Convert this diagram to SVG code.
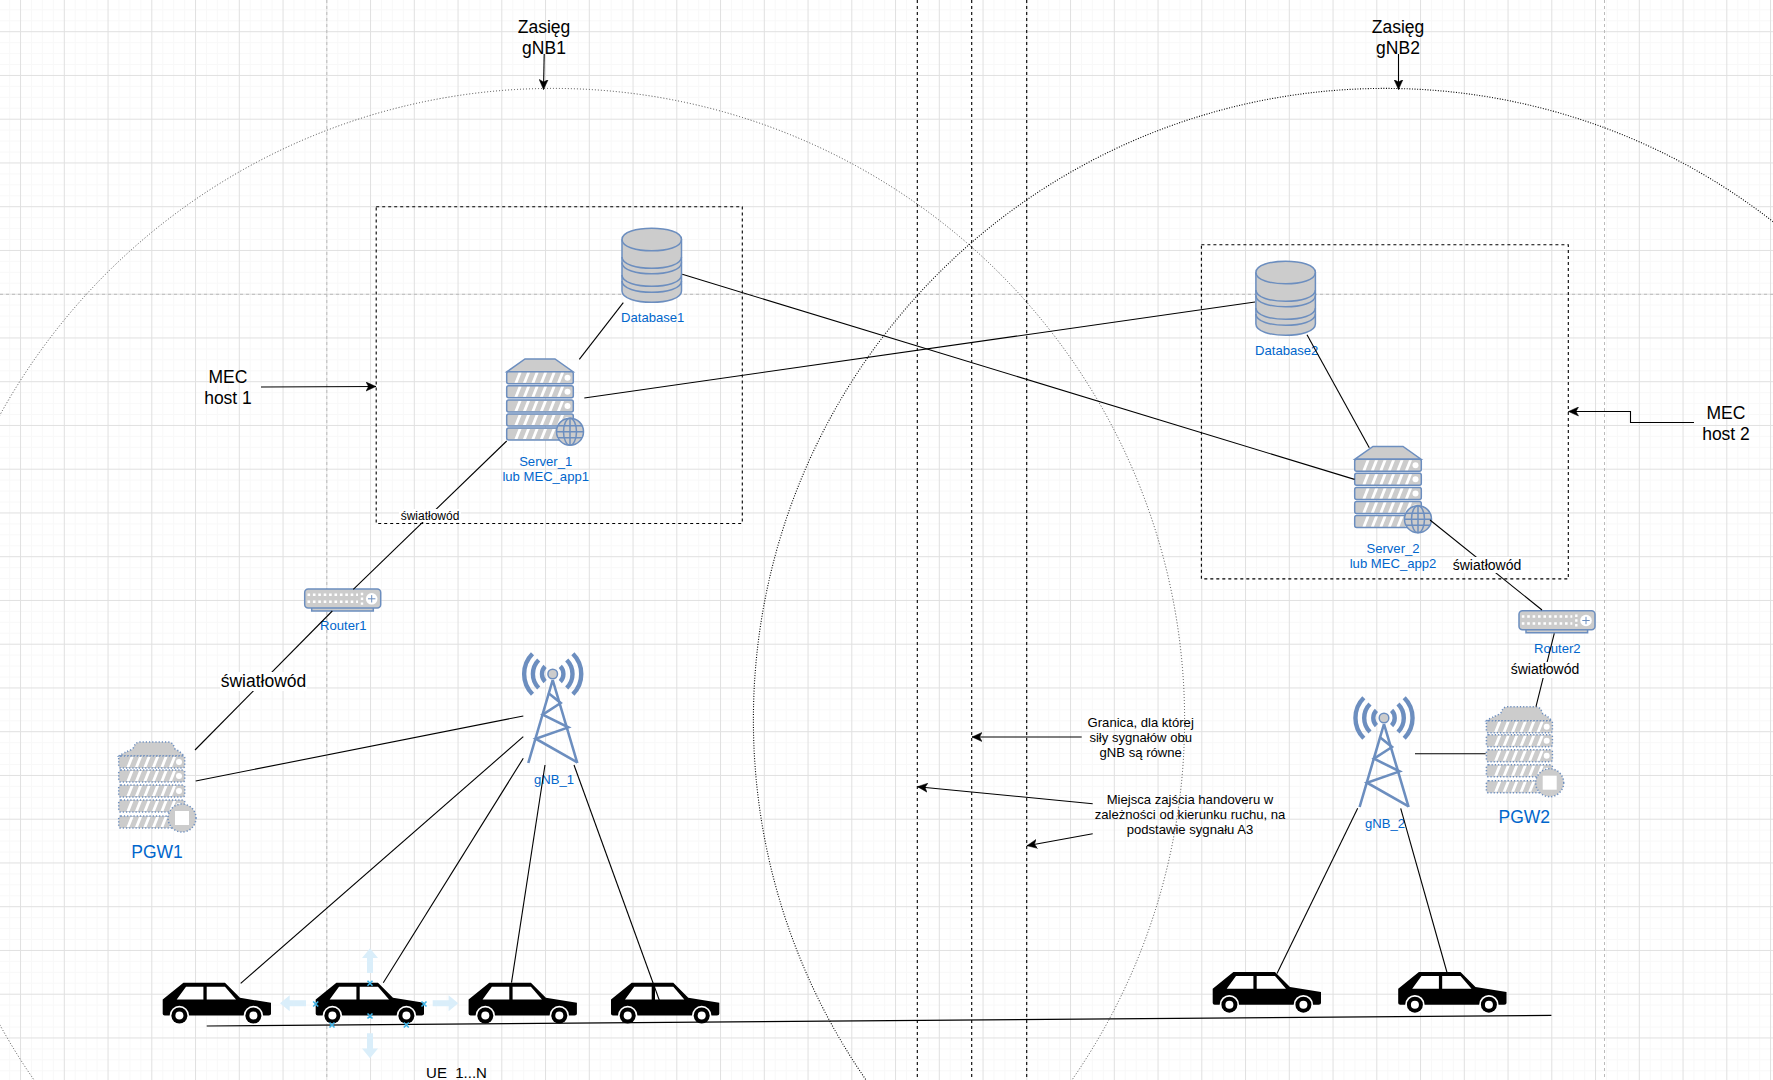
<svg xmlns="http://www.w3.org/2000/svg" xmlns:xlink="http://www.w3.org/1999/xlink" width="1773" height="1080" viewBox="0 0 1773 1080">
<style>
text{font-family:"Liberation Sans",Arial,sans-serif;fill:#000;text-anchor:middle}
.t13{font-size:13.1px}.t14{font-size:14px}.t12{font-size:12px}.t17{font-size:17.5px}.t15{font-size:15px}
.b{fill:#0066cc}
.c{fill:none;stroke:#000;stroke-width:1.1}
.a{marker-end:url(#arr)}
.ic{fill:#ccc;stroke:#6c8ebf;stroke-width:1.5}
.pd{stroke-dasharray:1.2 2}
.st{fill:#fff;stroke:none}
.page{stroke:#bbb;stroke-width:1;stroke-dasharray:3 3;fill:none}
.vd{stroke:#000;stroke-width:1.1;stroke-dasharray:3 3;fill:none}
.tw{fill:none;stroke:#6c8ebf;stroke-width:2.6}
.ar{fill:none;stroke:#6c8ebf;stroke-width:4.4}
.sel{fill:#daeefa;stroke:none}
.x{stroke:#3fb3e6;stroke-width:1.6;fill:none}
</style>
<defs>
<pattern id="grid" patternUnits="userSpaceOnUse" x="20.05" y="31.2" width="43.75" height="43.75">
<path d="M11.44 0V43.75M22.38 0V43.75M33.31 0V43.75M0 11.44H43.75M0 22.38H43.75M0 33.31H43.75" stroke="#f8f8f8" stroke-width="1" fill="none"/>
<path d="M0.5 0V43.75M0 0.5H43.75" stroke="#e0e0e0" stroke-width="1" fill="none"/>
</pattern>
<marker id="arr" markerUnits="userSpaceOnUse" markerWidth="12" markerHeight="10" refX="10" refY="5" orient="auto">
<path d="M0 0.5L10 5L0 9.5L2.5 5Z" fill="#000" stroke="#000" stroke-width="0.5"/>
</marker>
<path id="stripes" d="M8.5 11L12.5 1H15.5L11.5 11ZM17 11L21 1H24L20 11ZM25.5 11L29.5 1H32.5L28.5 11ZM34 11L38 1H41L37 11ZM42.5 11L46.5 1H49.5L45.5 11ZM51 11L55 1H58L54 11Z" class="st"/>
<g id="slot"><rect x="0.7" y="0" width="66.6" height="12" rx="2" class="ic"/><use href="#stripes"/><circle cx="61.5" cy="6" r="3" class="st"/></g>
<g id="slotp"><rect x="0.7" y="0" width="66" height="12" rx="2" class="ic pd"/><use href="#stripes"/><circle cx="61" cy="6" r="3" class="st"/></g>
<g id="server">
<path d="M1 12.7L19 0H49L67 12.7Z" class="ic"/>
<use href="#slot" y="12.7"/><use href="#slot" y="26.7"/><use href="#slot" y="41"/><use href="#slot" y="55"/><use href="#slot" y="69"/>
<g transform="translate(64 72.7)"><circle r="13.5" class="ic"/><ellipse rx="6.5" ry="13.5" class="ic" style="fill:none"/><path d="M0-13.5V13.5M-13.5 0H13.5M-12-6H12M-12 6H12" class="ic" style="fill:none"/></g>
</g>
<g id="pgw">
<path d="M1 14Q5 11 15 7Q17 0 22 0H50Q55 0 57 7Q63 10 66 14Z" class="ic pd"/>
<use href="#slotp" y="14"/><use href="#slotp" y="28"/><use href="#slotp" y="43"/><use href="#slotp" y="58"/><use href="#slotp" y="74"/>
<circle cx="64" cy="76" r="14" class="ic pd"/><rect x="57" y="69" width="14" height="14" fill="#fff"/>
</g>
<g id="db">
<path d="M0.5 11.5C0.5 -3.5 60 -3.5 60 11.5V63C60 78 0.5 78 0.5 63Z" class="ic"/>
<path d="M0.5 11.5C0.5 26.5 60 26.5 60 11.5M0.5 29C0.5 44 60 44 60 29M0.5 34.5C0.5 49.5 60 49.5 60 34.5M0.5 47C0.5 62 60 62 60 47M0.5 53C0.5 68 60 68 60 53" fill="none" stroke="#6c8ebf" stroke-width="1.5"/>
</g>
<g id="router">
<path d="M7.7 19H69.3V22.7H7.7Z" class="ic"/>
<rect x="0.7" y="0.7" width="76" height="19" rx="3.5" class="ic"/>
<path d="M3.5 6.5H54M3.5 13.5H54" stroke="#fff" stroke-width="2.6" stroke-dasharray="2.6 2.8" fill="none"/>
<path d="M58 4.5V17" stroke="#fff" stroke-width="2.4" stroke-dasharray="2.4 2.4" fill="none"/>
<circle cx="67.7" cy="10.5" r="5.8" fill="#fff" stroke="none"/>
<path d="M64 10.5H71.4M67.7 6.8V14.2" stroke="#6c8ebf" stroke-width="1" fill="none"/>
</g>
<g id="tower">
<path d="M0 6L-24.4 89M0 6L24.6 89" class="tw"/>
<path d="M-4.4 19L8 29L-10 40.7L15.6 53.4L-17 64.7L24.6 88.4" class="tw"/>
<circle r="4.8" class="ic"/>
<path d="M-20.2 -20.2A28.6 28.6 0 0 0 -20.2 20.2M-14 -14A19.8 19.8 0 0 0 -14 14M-7.6 -7.6A10.8 10.8 0 0 0 -7.6 7.6M20.2 -20.2A28.6 28.6 0 0 1 20.2 20.2M14 -14A19.8 19.8 0 0 1 14 14M7.6 -7.6A10.8 10.8 0 0 1 7.6 7.6" class="ar"/>
</g>
<g id="car">
<path d="M0 16.7L20.7 0H62.3L77.3 15L108.3 20V31Q108.3 32.7 106 32.7H2Q0 32.7 0 31Z" fill="#000"/>
<path d="M14 16.7L23.3 4H40.7V16.7ZM44 4H62.3L73.3 16.7H44Z" fill="#fff"/>
<circle cx="16.7" cy="32.7" r="9.7" fill="#fff"/><circle cx="16.7" cy="32.7" r="8" fill="#000"/><circle cx="16.7" cy="32.7" r="4" fill="#fff"/>
<circle cx="90.7" cy="32.7" r="9.7" fill="#fff"/><circle cx="90.7" cy="32.7" r="8" fill="#000"/><circle cx="90.7" cy="32.7" r="4" fill="#fff"/>
</g>
<path id="xm" d="M-2.5-2.5L2.5 2.5M-2.5 2.5L2.5-2.5" class="x"/>
</defs>
<rect id="background" width="1773" height="1080" fill="#fff"/>
<rect id="gridlines" width="1773" height="1080" fill="url(#grid)"/>
<g id="page-breaks">
<path class="page" d="M326.8 0V1080M1604.5 0V1080M0 294.3H1773"/>
</g>
<g id="coverage">
<circle cx="553" cy="720" r="631.6" fill="none" stroke="#444" stroke-width="1" stroke-dasharray="1 2"/>
<circle cx="1385" cy="720" r="631.6" fill="none" stroke="#000" stroke-width="1.1" stroke-dasharray="1 1.6"/>
</g>
<g id="boundaries">
<path class="vd" d="M917.3 0V1080M971.7 0V1080M1026.7 0V1080"/>
<rect x="376.2" y="206.7" width="366.1" height="316.8" fill="none" stroke="#000" stroke-width="1.1" stroke-dasharray="3 3"/>
<rect x="1201.4" y="244.8" width="366.9" height="334.1" fill="none" stroke="#000" stroke-width="1.1" stroke-dasharray="3 3"/>
</g>
<g id="Server_1"><use href="#server" x="506" y="359"/><text class="t13 b" x="545.7" y="466.4">Server_1</text><text class="t13 b" x="545.7" y="481.2">lub MEC_app1</text></g>
<g id="Server_2"><use href="#server" x="1354" y="446.5"/><text class="t13 b" x="1393" y="553.4">Server_2</text><text class="t13 b" x="1393" y="568.2">lub MEC_app2</text></g>
<g id="Database1"><use href="#db" x="621.5" y="228"/><text class="t13 b" x="652.7" y="321.5">Database1</text></g>
<g id="Database2"><use href="#db" x="1255.4" y="261"/><text class="t13 b" x="1286.7" y="354.8">Database2</text></g>
<g id="Router1"><use href="#router" x="304" y="588.3"/><text class="t13 b" x="343.3" y="630.4">Router1</text></g>
<g id="Router2"><use href="#router" x="1518.3" y="610"/><text class="t13 b" x="1557.3" y="653">Router2</text></g>
<g id="PGW1"><use href="#pgw" x="118" y="742"/><text class="t17 b" x="157" y="858.3">PGW1</text></g>
<g id="PGW2"><use href="#pgw" x="1485.7" y="706.7"/><text class="t17 b" x="1524.3" y="823.3">PGW2</text></g>
<g id="gNB_1"><use href="#tower" x="552.7" y="674"/><text class="t13 b" x="554" y="784">gNB_1</text></g>
<g id="gNB_2"><use href="#tower" x="1384" y="718"/><text class="t13 b" x="1385" y="828">gNB_2</text></g>
<g id="UE1"><use href="#car" x="162.7" y="982.8"/></g>
<g id="UE2"><use href="#car" x="315.7" y="982.8"/></g>
<g id="UE3"><use href="#car" x="468.6" y="982.8"/></g>
<g id="UE4"><use href="#car" x="611" y="982.8"/></g>
<g id="UE5"><use href="#car" x="1212.7" y="972"/></g>
<g id="UE6"><use href="#car" x="1398.2" y="972"/></g>
<g id="connectors">
<path class="c" d="M206.7 1026L1551.4 1015.4"/>
<path class="c" d="M579.3 359.3L623.3 302.7"/>
<path class="c" d="M682.3 274.3L1354.5 479.4"/>
<path class="c" d="M584.3 398L1255 302"/>
<path class="c" d="M1307 334.7L1369.3 447.8"/>
<path class="c" d="M506.7 441L353.3 589.3"/>
<path class="c" d="M332.3 611L195 750"/>
<path class="c" d="M1430 520L1542 610"/>
<path class="c" d="M1554.3 633.3L1536 706.7"/>
<path class="c" d="M195.7 781L523.3 716"/>
<path class="c" d="M1415 753.7H1485.7"/>
<path class="c" d="M240.7 983.3L523.3 736.7"/>
<path class="c" d="M383.3 982.7L523.3 758.3"/>
<path class="c" d="M511.5 982.6L545 765"/>
<path class="c" d="M659.5 1000.7L574 765"/>
<path class="c" d="M1277 973.5L1357.7 808.3"/>
<path class="c" d="M1447.3 973.5L1400.7 808.3"/>
<path class="c a" d="M544.2 54L543.5 89.5"/>
<path class="c a" d="M1398.5 54V89.5"/>
<path class="c a" d="M261 387L376 386.5"/>
<path class="c a" d="M1694 422.5H1630.5V411.5H1568.5"/>
<path class="c a" d="M1081.7 737H972"/>
<path class="c a" d="M1092.7 803.7L917.5 786.7"/>
<path class="c a" d="M1092.7 833.7L1027 845.7"/>
</g>
<g id="edge-labels">
<rect x="399" y="509" width="62" height="13" fill="#fff"/><text class="t12" x="430" y="520">światłowód</text>
<rect x="220" y="672" width="87" height="19" fill="#fff"/><text class="t17" x="263.5" y="686.5">światłowód</text>
<rect x="1452" y="557" width="70" height="16" fill="#fff"/><text class="t14" x="1487" y="570">światłowód</text>
<rect x="1510" y="662" width="70" height="16" fill="#fff"/><text class="t14" x="1545" y="674">światłowód</text>
</g>
<g id="labels">
<text class="t17" x="544" y="33">Zasięg</text><text class="t17" x="544" y="54">gNB1</text>
<text class="t17" x="1398" y="33">Zasięg</text><text class="t17" x="1398" y="54">gNB2</text>
<text class="t17" x="228" y="383">MEC</text><text class="t17" x="228" y="403.5">host 1</text>
<text class="t17" x="1726" y="418.5">MEC</text><text class="t17" x="1726" y="439.5">host 2</text>
<text class="t13" x="1140.7" y="726.8">Granica, dla której</text><text class="t13" x="1140.7" y="741.8">siły sygnałów obu</text><text class="t13" x="1140.7" y="756.8">gNB są równe</text>
<text class="t13" x="1190" y="803.5">Miejsca zajścia handoveru w</text><text class="t13" x="1190" y="818.5">zależności od kierunku ruchu, na</text><text class="t13" x="1190" y="833.5">podstawie sygnału A3</text>
<text class="t15" x="456.5" y="1078">UE_1...N</text>
</g>
<g id="selection">
<path class="sel" d="M370 948.3L378 958H373V973H367V958H362Z"/>
<path class="sel" d="M370 1058.3L378 1048.6H373V1033.3H367V1048.6H362Z"/>
<path class="sel" d="M280 1003.3L289.7 995.3V1000.3H306V1006.3H289.7V1011.3Z"/>
<path class="sel" d="M458.3 1003.3L448.6 995.3V1000.3H432.7V1006.3H448.6V1011.3Z"/>
<use href="#xm" x="315.7" y="1004"/><use href="#xm" x="370" y="983.3"/><use href="#xm" x="424" y="1004"/><use href="#xm" x="370" y="1016"/><use href="#xm" x="332" y="1025"/><use href="#xm" x="406.3" y="1025"/>
</g>
</svg>
